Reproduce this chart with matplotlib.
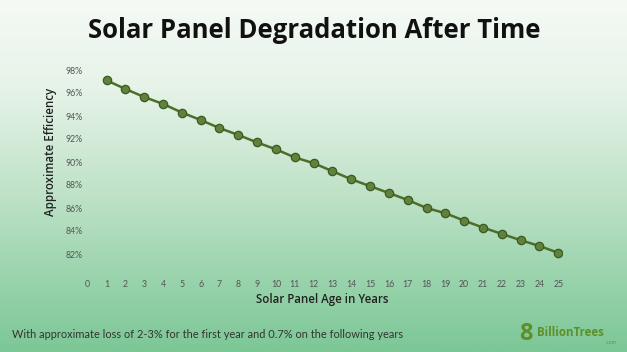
import numpy as np
import matplotlib
matplotlib.use("Agg")
import matplotlib.pyplot as plt
from matplotlib.colors import LinearSegmentedColormap

years = list(range(1, 26))
efficiency = [97.1, 96.35, 95.65, 95.05, 94.3, 93.65, 92.95, 92.35, 91.7, 91.1,
              90.4, 89.9, 89.2, 88.5, 87.9, 87.3, 86.7, 86.0, 85.55, 84.9,
              84.3, 83.75, 83.2, 82.7, 82.1]
x_ticks = list(range(0, 26))
y_ticks = [82, 84, 86, 88, 90, 92, 94, 96, 98]
y_tick_labels = [f"{v}%" for v in y_ticks]

title = "Solar Panel Degradation After Time"
xlabel = "Solar Panel Age in Years"
ylabel = "Approximate Efficiency"
caption = "With approximate loss of 2-3% for the first year and 0.7% on the following years"

W, H = 627, 352
fig = plt.figure(figsize=(W / 100, H / 100), dpi=100)

# background gradient
bg = fig.add_axes([0, 0, 1, 1], zorder=0)
cmap = LinearSegmentedColormap.from_list(
    "g", [(0.0, "#f5faf5"), (0.25, "#e6f3e8"), (0.55, "#bfe2c8"), (0.8, "#98d3ab"), (1.0, "#7cc796")])
grad = np.linspace(0, 1, 256).reshape(-1, 1)
bg.imshow(grad, aspect="auto", cmap=cmap, extent=[0, 1, 0, 1], origin="upper")
bg.set_axis_off()

ax = fig.add_axes([84 / W, 1 - 277 / H, (562 - 84) / W, (277 - 58.5) / H], zorder=1)
ax.patch.set_alpha(0)
ax.plot(years, efficiency, color="#4d6e2b", lw=1.8, marker="o", markersize=6,
        markerfacecolor="#60823c", markeredgecolor="#3b5a22", markeredgewidth=0.9)
ax.set_xlim(-0.2, 25.2)
ax.set_ylim(80, 99)
ax.set_xticks(x_ticks)
ax.set_xticklabels([str(v) for v in x_ticks], fontsize=6.3, color="#555555", family="Lato")
ax.set_yticks(y_ticks)
ax.set_yticklabels(y_tick_labels, fontsize=6.3, color="#555555", family="Lato")
ax.tick_params(axis="y", length=0, pad=1)
ax.tick_params(axis="x", length=0, pad=2)
for s in ax.spines.values():
    s.set_visible(False)

fig.text(314 / W, 1 - 30 / H, title, ha="center", va="center", fontsize=18.5,
         fontweight="bold", family="Open Sans", color="#111111")
fig.text(322 / W, 1 - 300 / H, xlabel, ha="center", va="center", fontsize=8.3,
         fontweight="semibold", family="Open Sans", color="#222222")
fig.text(51 / W, 1 - 152 / H, ylabel, ha="center", va="center", fontsize=8.3,
         fontweight="semibold", family="Open Sans", color="#222222", rotation=90)
fig.text(12 / W, 1 - 335 / H, caption, ha="left", va="center", fontsize=7.9,
         family="Lato", color="#333333")

# logo
fig.text(526 / W, 1 - 334 / H, "8", ha="center", va="center", fontsize=17,
         fontweight="bold", family="Open Sans", color="#5d8f2a")
fig.text(537 / W, 1 - 333 / H, "BillionTrees", ha="left", va="center", fontsize=8.3,
         fontweight="bold", family="Open Sans", color="#5d8f2a")
fig.text(617 / W, 1 - 342 / H, ".com", ha="right", va="center", fontsize=3.5,
         family="Open Sans", color="#5d8f2a")

fig.savefig("out.png", dpi=100)
